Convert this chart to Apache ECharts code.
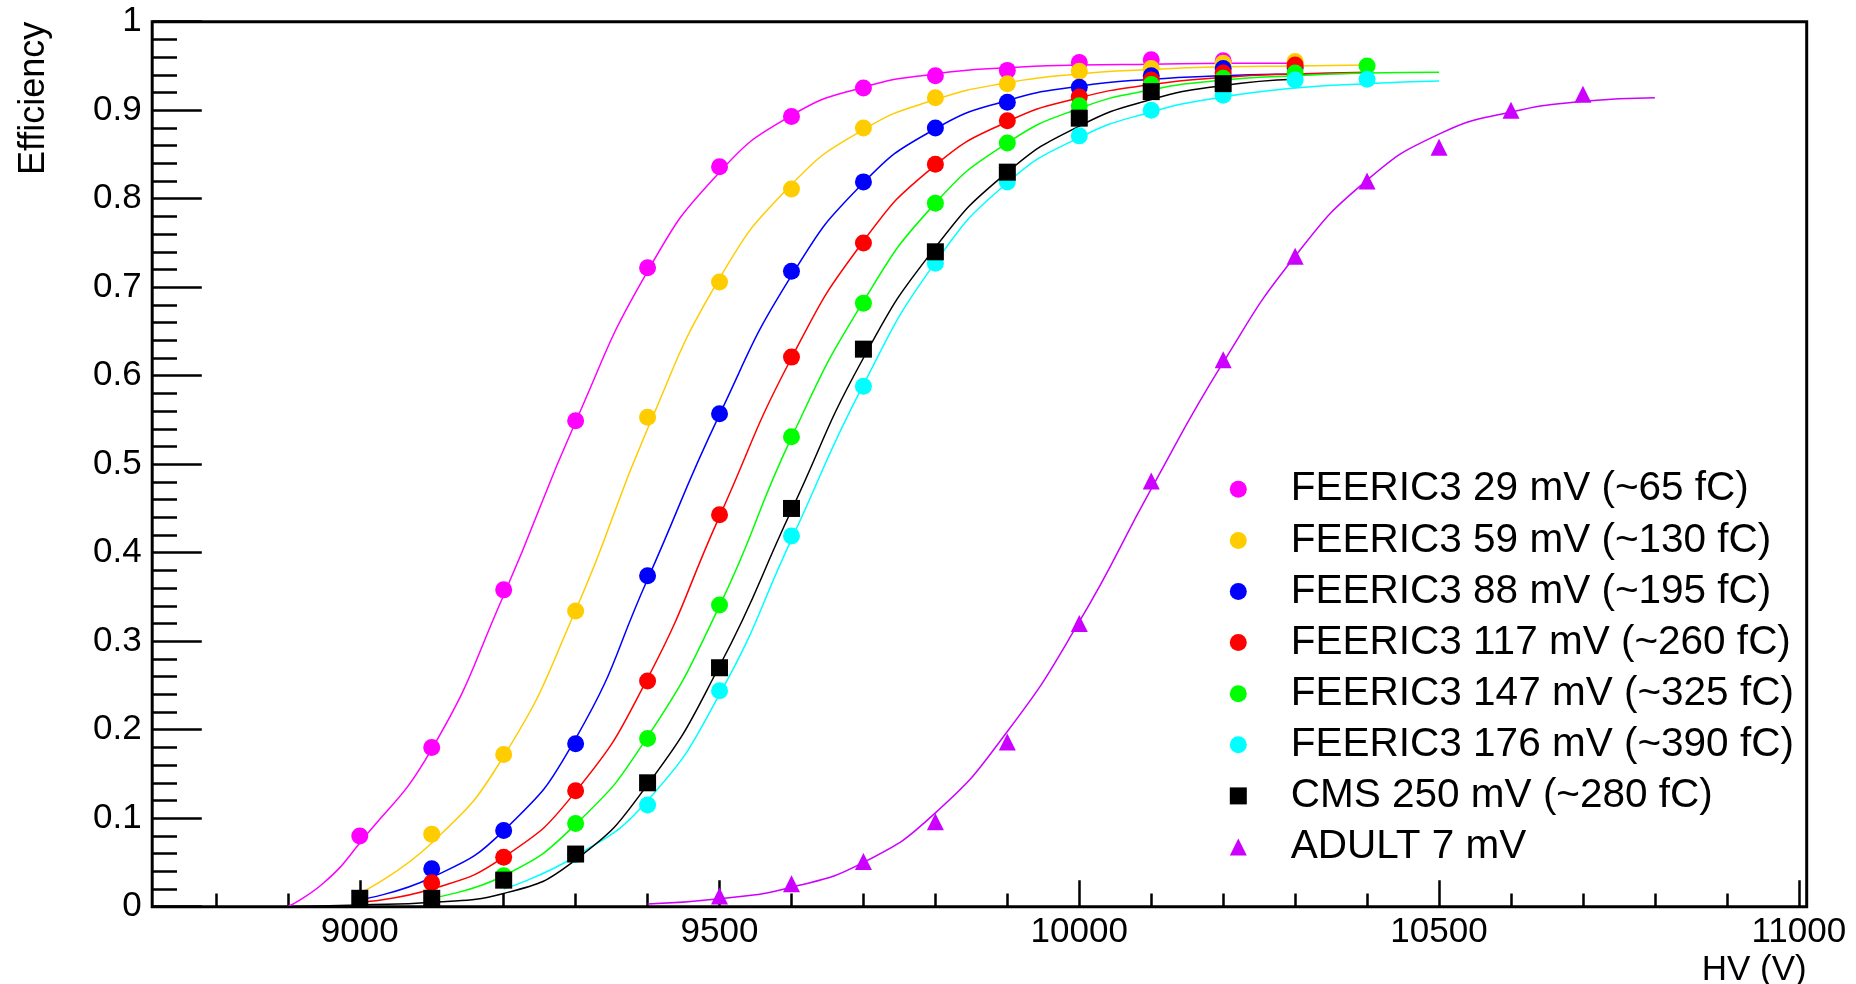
<!DOCTYPE html>
<html>
<head>
<meta charset="utf-8">
<title>Efficiency vs HV</title>
<script src="https://cdn.jsdelivr.net/npm/echarts@6/dist/echarts.min.js"></script>
<style>
  html, body { margin: 0; padding: 0; background: #fff; }
  #chart { width: 1856px; height: 984px; }
</style>
</head>
<body>
<div id="chart"></div>
<script>
// ---- measured efficiencies (HV in volts) ----
const hvFeeric29 = [9000, 9100, 9200, 9300, 9400, 9500, 9600, 9700, 9800, 9900, 10000, 10100, 10200];
const effFeeric29 = [0.080, 0.180, 0.358, 0.549, 0.722, 0.836, 0.893, 0.925, 0.939, 0.945, 0.954, 0.957, 0.956];

const hvFeeric59 = [9100, 9200, 9300, 9400, 9500, 9600, 9700, 9800, 9900, 10000, 10100, 10200, 10300];
const effFeeric59 = [0.082, 0.172, 0.334, 0.553, 0.706, 0.811, 0.880, 0.914, 0.930, 0.944, 0.947, 0.953, 0.955];

const hvFeeric88 = [9100, 9200, 9300, 9400, 9500, 9600, 9700, 9800, 9900, 10000, 10100, 10200, 10300];
const effFeeric88 = [0.043, 0.086, 0.184, 0.374, 0.557, 0.718, 0.819, 0.880, 0.909, 0.926, 0.939, 0.947, 0.948];

const hvFeeric117 = [9100, 9200, 9300, 9400, 9500, 9600, 9700, 9800, 9900, 10000, 10100, 10200, 10300];
const effFeeric117 = [0.027, 0.056, 0.131, 0.255, 0.443, 0.621, 0.750, 0.839, 0.888, 0.915, 0.934, 0.942, 0.951];

const hvFeeric147 = [9200, 9300, 9400, 9500, 9600, 9700, 9800, 9900, 10000, 10100, 10200, 10300, 10400];
const effFeeric147 = [0.035, 0.094, 0.190, 0.341, 0.531, 0.682, 0.795, 0.863, 0.905, 0.929, 0.936, 0.942, 0.950];

const hvFeeric176 = [9300, 9400, 9500, 9600, 9700, 9800, 9900, 10000, 10100, 10200, 10300, 10400];
const effFeeric176 = [0.059, 0.115, 0.244, 0.419, 0.588, 0.727, 0.819, 0.871, 0.900, 0.917, 0.934, 0.935];

const hvCms250 = [9000, 9100, 9200, 9300, 9400, 9500, 9600, 9700, 9800, 9900, 10000, 10100, 10200];
const effCms250 = [0.0095, 0.0095, 0.030, 0.0595, 0.140, 0.270, 0.450, 0.630, 0.740, 0.830, 0.891, 0.921, 0.930];

const hvAdult7 = [9500, 9600, 9700, 9800, 9900, 10000, 10100, 10200, 10300, 10400, 10500, 10600, 10700];
const effAdult7 = [0.012, 0.026, 0.051, 0.096, 0.186, 0.320, 0.481, 0.618, 0.735, 0.820, 0.858, 0.900, 0.918];

// ---- fitted efficiency curves, sampled along HV ----
const fitHv29 = [8900, 8950, 9000, 9100, 9200, 9300, 9400, 9500, 9600, 9700, 9800, 9900, 10000, 10100, 10200, 10300];
const fitEff29 = [0.0, 0.027, 0.072, 0.178, 0.352, 0.548, 0.718, 0.830, 0.894, 0.926, 0.941, 0.948, 0.951, 0.952, 0.953, 0.953];

const fitHv59 = [9000, 9100, 9200, 9300, 9400, 9500, 9600, 9700, 9800, 9900, 10000, 10100, 10200, 10300, 10400];
const fitEff59 = [0.015, 0.072, 0.170, 0.335, 0.540, 0.710, 0.816, 0.878, 0.912, 0.931, 0.941, 0.946, 0.949, 0.950, 0.951];

const fitHv88 = [9000, 9100, 9200, 9300, 9400, 9500, 9600, 9700, 9800, 9900, 10000, 10100, 10200, 10300, 10400];
const fitEff88 = [0.008, 0.033, 0.086, 0.190, 0.370, 0.556, 0.713, 0.818, 0.879, 0.911, 0.927, 0.935, 0.939, 0.941, 0.942];

const fitHv117 = [9000, 9100, 9200, 9300, 9400, 9500, 9600, 9700, 9800, 9900, 10000, 10100, 10200, 10300, 10400];
const fitEff117 = [0.005, 0.020, 0.056, 0.130, 0.258, 0.441, 0.620, 0.752, 0.838, 0.887, 0.914, 0.929, 0.937, 0.941, 0.943];

const fitHv147 = [9100, 9200, 9300, 9400, 9500, 9600, 9700, 9800, 9900, 10000, 10100, 10200, 10300, 10400, 10500];
const fitEff147 = [0.010, 0.035, 0.093, 0.192, 0.340, 0.530, 0.684, 0.795, 0.863, 0.902, 0.923, 0.934, 0.939, 0.942, 0.943];

const fitHv176 = [9200, 9300, 9400, 9500, 9600, 9700, 9800, 9900, 10000, 10100, 10200, 10300, 10400, 10500];
const fitEff176 = [0.020, 0.057, 0.120, 0.240, 0.415, 0.590, 0.728, 0.818, 0.869, 0.898, 0.915, 0.925, 0.930, 0.933];

const fitHv250 = [8900, 9000, 9100, 9200, 9300, 9400, 9500, 9600, 9700, 9800, 9900, 10000, 10100, 10200, 10300];
const fitEff250 = [0.0, 0.002, 0.005, 0.015, 0.053, 0.138, 0.272, 0.448, 0.620, 0.745, 0.830, 0.882, 0.912, 0.928, 0.935];

const fitHv7 = [9400, 9500, 9600, 9700, 9800, 9900, 10000, 10100, 10200, 10300, 10400, 10500, 10600, 10700, 10800];
const fitEff7 = [0.003, 0.009, 0.022, 0.050, 0.106, 0.198, 0.322, 0.472, 0.615, 0.735, 0.821, 0.873, 0.898, 0.910, 0.914];

// ---- axis ticks ----
const hvMajorTicks = [9000, 9500, 10000, 10500, 11000];
const hvMinorTicks = [8800, 8900, 9100, 9200, 9300, 9400, 9600, 9700, 9800, 9900,
                      10100, 10200, 10300, 10400, 10600, 10700, 10800, 10900];

const FONT = '"Liberation Sans", Helvetica, Arial, sans-serif';

const zip = (xs, ys) => xs.map((x, i) => [x, ys[i]]);

const groups = [
  { name: 'FEERIC3 29 mV (~65 fC)',   color: '#ff00ff', symbol: 'circle',   hv: hvFeeric29,  eff: effFeeric29,  fx: fitHv29,  fy: fitEff29 },
  { name: 'FEERIC3 59 mV (~130 fC)',  color: '#ffcc00', symbol: 'circle',   hv: hvFeeric59,  eff: effFeeric59,  fx: fitHv59,  fy: fitEff59 },
  { name: 'FEERIC3 88 mV (~195 fC)',  color: '#0000ff', symbol: 'circle',   hv: hvFeeric88,  eff: effFeeric88,  fx: fitHv88,  fy: fitEff88 },
  { name: 'FEERIC3 117 mV (~260 fC)', color: '#ff0000', symbol: 'circle',   hv: hvFeeric117, eff: effFeeric117, fx: fitHv117, fy: fitEff117 },
  { name: 'FEERIC3 147 mV (~325 fC)', color: '#00ff00', symbol: 'circle',   hv: hvFeeric147, eff: effFeeric147, fx: fitHv147, fy: fitEff147 },
  { name: 'FEERIC3 176 mV (~390 fC)', color: '#00ffff', symbol: 'circle',   hv: hvFeeric176, eff: effFeeric176, fx: fitHv176, fy: fitEff176 },
  { name: 'CMS 250 mV (~280 fC)',     color: '#000000', symbol: 'rect',     hv: hvCms250,    eff: effCms250,    fx: fitHv250, fy: fitEff250 },
  { name: 'ADULT 7 mV',               color: '#cc00ff', symbol: 'triangle', hv: hvAdult7,    eff: effAdult7,    fx: fitHv7,   fy: fitEff7 }
];

// smooth curve through the sampled fit values
const fitSeries = groups.map(g => ({
  name: g.name + ' fit',
  type: 'line',
  data: zip(g.fx, g.fy),
  showSymbol: false,
  smooth: 0.5,
  lineStyle: { color: g.color, width: 1.5 },
  itemStyle: { color: g.color },
  z: 2,
  silent: true
}));

const pointSeries = groups.map(g => ({
  name: g.name,
  type: 'scatter',
  data: zip(g.hv, g.eff),
  symbol: g.symbol,
  symbolSize: 17,
  itemStyle: { color: g.color, opacity: 1 },
  z: 3
}));

const chart = echarts.init(document.getElementById('chart'), null, { renderer: 'canvas' });

chart.setOption({
  animation: false,
  backgroundColor: '#ffffff',
  grid: {
    left: 152.2, right: 49.3, top: 21.7, bottom: 77.3,
    show: true, borderColor: '#000', borderWidth: 3, backgroundColor: 'transparent'
  },
  xAxis: [
    {
      type: 'value', min: 8711.5, max: 11011,
      axisLine: { show: false },
      splitLine: { show: false },
      axisTick: { show: true, inside: true, length: 26.5, customValues: hvMajorTicks,
                  lineStyle: { color: '#000', width: 2.5 } },
      axisLabel: { show: true, customValues: hvMajorTicks, margin: 8,
                   formatter: v => String(v), color: '#000', fontSize: 35, fontFamily: FONT }
    },
    {
      type: 'value', min: 8711.5, max: 11011, position: 'bottom',
      axisLine: { show: false },
      splitLine: { show: false },
      axisLabel: { show: false },
      axisTick: { show: true, inside: true, length: 13.3, customValues: hvMinorTicks,
                  lineStyle: { color: '#000', width: 2.5 } }
    }
  ],
  yAxis: {
    type: 'value', min: 0, max: 1, interval: 0.1,
    axisLine: { show: false },
    splitLine: { show: false },
    axisTick: { show: true, inside: true, length: 49.6, lineStyle: { color: '#000', width: 2.5 } },
    minorTick: { show: true, splitNumber: 5, length: 24.8, lineStyle: { color: '#000', width: 2.5 } },
    axisLabel: { margin: 10.5, color: '#000', fontSize: 35, fontFamily: FONT,
                 formatter: v => String(parseFloat(v.toFixed(2))) }
  },
  legend: {
    data: groups.map(g => g.name),
    orient: 'vertical',
    left: 1229.8, top: 463.75,
    padding: 0,
    itemGap: 0,
    itemWidth: 17, itemHeight: 17,
    selectedMode: false,
    textStyle: { color: '#000', fontSize: 40.5, lineHeight: 51.1, fontFamily: FONT,
                 padding: [0, 0, 0, 39] }
  },
  graphic: [
    {
      type: 'text', x: 33.7, y: 21.7, rotation: Math.PI / 2,
      style: { text: 'Efficiency', fill: '#000', font: '36px ' + FONT, align: 'right', verticalAlign: 'middle' }
    },
    {
      type: 'text', x: 1806.7, y: 970.2,
      style: { text: 'HV (V)', fill: '#000', font: '35px ' + FONT, align: 'right', verticalAlign: 'middle' }
    }
  ],
  series: fitSeries.concat(pointSeries)
});
</script>
</body>
</html>
